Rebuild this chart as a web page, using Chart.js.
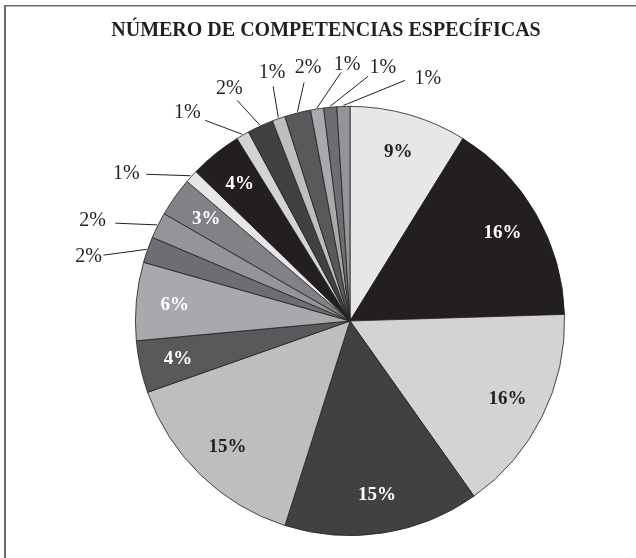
<!DOCTYPE html>
<html>
<head>
<meta charset="utf-8">
<script src="https://cdn.jsdelivr.net/npm/chart.js@4.4.1/dist/chart.umd.min.js"></script>
<style>
  html, body { margin: 0; padding: 0; background: #ffffff; }
  #wrap { position: relative; width: 636px; height: 558px; }
</style>
</head>
<body>
<div id="wrap"><canvas id="c" width="636" height="558"></canvas></div>
<script>
// ---- data ----
const chartTitle = 'NÚMERO DE COMPETENCIAS ESPECÍFICAS';
const categories = ['1','2','3','4','5','6','7','8','9','10','11','12','13','14','15','16','17','18','19'];
const shares = [9, 16, 16, 15, 15, 4, 6, 2, 2, 3, 1, 4, 1, 2, 1, 2, 1, 1, 1];

// ---- styling ----
const palette = ['#e6e7e8','#231f20','#d1d3d4','#414042','#bcbec0','#58595b','#a7a9ac','#6d6e71','#939598','#808285'];
const sliceColors = categories.map((c, i) => palette[i % palette.length]);
const darkText = '#231f20';
const lightText = '#ffffff';
const insideTextColor = (i) => [1,3,5,6,9].includes(i % 10) ? lightText : darkText;
// outside callouts: [lineStartDx, lineStartDy, textDx, textDy] relative to pie centre (px at radius 215)
const callouts = {
  7:  [-247, -66, -262, -64],
  8:  [-235, -98, -258, -100],
  10: [-204, -147, -224, -148],
  12: [-145, -201, -163, -209],
  13: [-113, -221, -121, -233],
  14: [-77, -235, -78, -249],
  15: [-46, -239, -42, -254],
  16: [-9, -249, -3, -257],
  17: [18, -245, 33, -254],
  18: [55, -241, 78, -243]
};

const serif = '"Liberation Serif", "Times New Roman", serif';

const decorPlugin = {
  id: 'decor',
  beforeDraw(chart) {
    const ctx = chart.ctx;
    ctx.save();
    ctx.fillStyle = '#ffffff';
    ctx.fillRect(0, 0, chart.width, chart.height);
    ctx.strokeStyle = '#6a6a6a';
    ctx.lineWidth = 1.6;
    ctx.beginPath();
    ctx.moveTo(4, 5.8); ctx.lineTo(chart.width, 5.8);
    ctx.stroke();
    ctx.lineWidth = 2;
    ctx.beginPath();
    ctx.moveTo(5, 5); ctx.lineTo(5, chart.height);
    ctx.stroke();
    ctx.fillStyle = darkText;
    ctx.font = 'bold 20px ' + serif;
    ctx.textAlign = 'center';
    ctx.textBaseline = 'middle';
    ctx.fillText(chartTitle, 326, 31);
    ctx.restore();
  },
  afterDatasetsDraw(chart) {
    const ctx = chart.ctx;
    const meta = chart.getDatasetMeta(0);
    const data = chart.data.datasets[0].data;
    const total = data.reduce((a, b) => a + b, 0);
    ctx.save();
    ctx.textAlign = 'center';
    ctx.textBaseline = 'middle';
    meta.data.forEach((arc, i) => {
      const p = arc.getProps(['x','y','startAngle','endAngle','outerRadius'], true);
      const mid = (p.startAngle + p.endAngle) / 2;
      const R = p.outerRadius;
      const k = R / 215;
      const label = Math.round(data[i] / total * 100) + '%';
      if (callouts[i]) {
        const c = callouts[i];
        const ax = p.x + Math.cos(mid) * (R + 1);
        const ay = p.y + Math.sin(mid) * (R + 1);
        ctx.strokeStyle = darkText;
        ctx.lineWidth = 1;
        ctx.beginPath();
        ctx.moveTo(p.x + c[0] * k, p.y + c[1] * k);
        ctx.lineTo(ax, ay);
        ctx.stroke();
        ctx.fillStyle = darkText;
        ctx.font = '20px ' + serif;
        ctx.fillText(label, p.x + c[2] * k, p.y + c[3] * k);
      } else {
        const r = R * 0.82;
        ctx.fillStyle = insideTextColor(i);
        ctx.font = 'bold 19px ' + serif;
        ctx.fillText(label, p.x + Math.cos(mid) * r, p.y + Math.sin(mid) * r);
      }
    });
    ctx.restore();
  }
};

new Chart(document.getElementById('c'), {
  type: 'pie',
  data: {
    labels: categories,
    datasets: [{
      data: shares,
      backgroundColor: sliceColors,
      borderColor: '#231f20',
      borderWidth: 0.8,
      borderAlign: 'center'
    }]
  },
  options: {
    responsive: false,
    animation: false,
    events: [],
    layout: { padding: { top: 106, bottom: 22, left: 135, right: 71 } },
    plugins: {
      legend: { display: false },
      tooltip: { enabled: false },
      title: { display: false }
    }
  },
  plugins: [decorPlugin]
});
</script>
</body>
</html>
